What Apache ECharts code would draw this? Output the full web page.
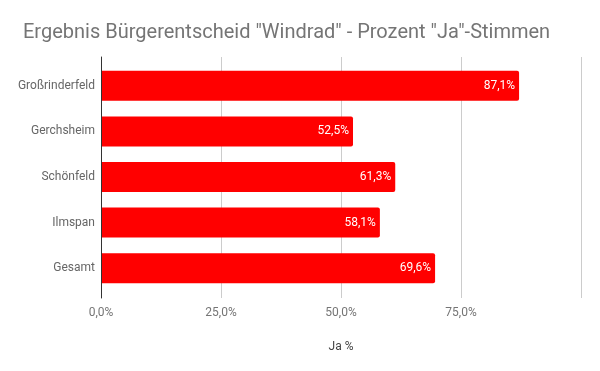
<!DOCTYPE html>
<html><head><meta charset="utf-8">
<script src="https://cdn.jsdelivr.net/npm/echarts@6/dist/echarts.min.js"></script>
<style>html,body{margin:0;padding:0;background:#fff}#c{width:600px;height:371px}</style>
</head><body><div id="c"></div>
<script>
var titleText = 'Ergebnis Bürgerentscheid "Windrad" - Prozent "Ja"-Stimmen';
var categories = ['Großrinderfeld', 'Gerchsheim', 'Schönfeld', 'Ilmspan', 'Gesamt'];
var jaValues = [87.1, 52.5, 61.3, 58.1, 69.6];
var xTicks = [0, 25, 50, 75, 100];
var axisName = 'Ja %';

function fmt(v){ return v.toFixed(1).replace('.', ',') + '%'; }

var chart = echarts.init(document.getElementById('c'), null, {renderer:'canvas'});
chart.setOption({
  animation:false,
  backgroundColor:'#fff',
  textStyle:{fontFamily:'Roboto'},
  title:{text:titleText, left:18, top:18, textStyle:{fontFamily:'Roboto', fontSize:20, fontWeight:'normal', color:'#757575'}},
  grid:[
    {left:101, right:19, top:63, bottom:80},
    {left:101, right:19, top:57, bottom:73}
  ],
  xAxis:[
    {gridIndex:0, type:'value', min:xTicks[0], max:xTicks[xTicks.length-1], interval:25,
      axisLine:{show:false}, axisTick:{show:false}, splitLine:{show:false}, axisLabel:{show:false}},
    {gridIndex:1, type:'value', min:xTicks[0], max:xTicks[xTicks.length-1], interval:25,
      name:axisName, nameLocation:'middle', nameGap:43,
      nameTextStyle:{fontFamily:'Roboto', fontSize:12, color:'#444'},
      axisLine:{show:false}, axisTick:{show:false},
      splitLine:{show:true, lineStyle:{color:'#cccccc', width:1}},
      axisLabel:{margin:9, fontFamily:'Roboto', fontSize:12, color:'#757575',
        formatter:function(v){ return v===100 ? '' : fmt(v); }}
    }
  ],
  yAxis:[
    {gridIndex:0, type:'category', data:categories, inverse:true,
      axisLine:{show:false}, axisTick:{show:false},
      axisLabel:{margin:6, fontFamily:'Roboto', fontSize:12, color:'#666666'}
    },
    {gridIndex:1, type:'category', data:categories, inverse:true, z:5,
      axisLine:{show:true, lineStyle:{color:'#333', width:1}},
      axisTick:{show:false}, axisLabel:{show:false}, splitLine:{show:false}
    }
  ],
  series:[{type:'bar', xAxisIndex:0, yAxisIndex:0, data:jaValues, barWidth:30,
    itemStyle:{color:'#ff0000', borderRadius:[0,2,2,0]},
    label:{show:true, position:'insideRight', distance:4, color:'#fff', fontFamily:'Roboto', fontSize:12,
      formatter:function(p){ return fmt(p.value); }}
  }]
});
</script></body></html>
